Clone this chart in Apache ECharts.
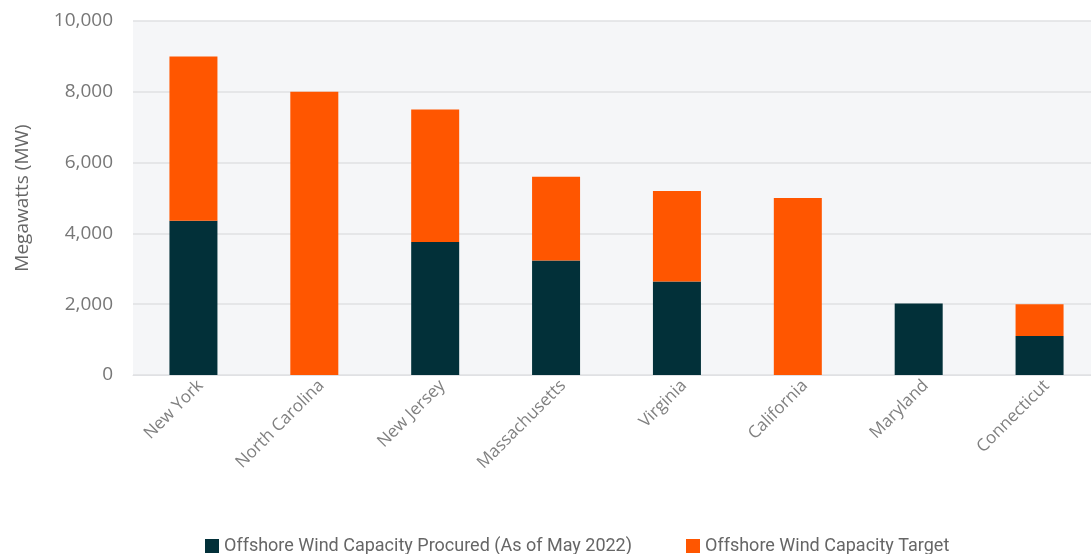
<!DOCTYPE html>
<html>
<head>
<meta charset="utf-8">
<script src="https://cdn.jsdelivr.net/npm/echarts@6/dist/echarts.min.js"></script>
<style>
  html, body { margin: 0; padding: 0; background: #fff; overflow: hidden; }
  #chart { width: 1100px; height: 554px; }
</style>
</head>
<body>
<div id="chart"></div>
<script>
// states, in the order shown
const states = ['New York', 'North Carolina', 'New Jersey', 'Massachusetts', 'Virginia', 'California', 'Maryland', 'Connecticut'];
// procured capacity (MW), dark segment
const procured = [4360, 0, 3758, 3236, 2640, 0, 2022, 1100];
// rest of the target above procured (MW), orange segment
const targetRest = [4640, 8000, 3742, 2364, 2560, 5000, 0, 900];
const yTicks = { min: 0, max: 10000, interval: 2000 };

const chart = echarts.init(document.getElementById('chart'));

const option = {
  animation: false,
  textStyle: { fontFamily: 'Open Sans' },
  grid: {
    left: 133, right: 0, top: 21, bottom: 179,
    show: true, backgroundColor: '#f5f6f8', borderWidth: 0
  },
  legend: {
    top: 532,
    left: 200,
    itemGap: 54,
    itemWidth: 14,
    itemHeight: 14,
    icon: 'rect',
    textStyle: { fontFamily: 'Roboto', fontSize: 18, color: '#666' },
    data: ['Offshore Wind Capacity Procured (As of May 2022)', 'Offshore Wind Capacity Target']
  },
  xAxis: {
    type: 'category',
    data: states,
    axisLine: { show: true, lineStyle: { color: '#e0e1e4' } },
    axisTick: { show: false },
    axisLabel: { rotate: 45, fontSize: 17, color: '#808080', margin: 15, interval: 0, padding: [0, -10, 0, 0] }
  },
  yAxis: {
    type: 'value',
    min: yTicks.min, max: yTicks.max, interval: yTicks.interval,
    name: 'Megawatts (MW)',
    nameLocation: 'middle',
    nameGap: 101,
    nameTextStyle: { fontSize: 19, color: '#666' },
    axisLine: { show: false },
    axisTick: { show: false },
    splitLine: { lineStyle: { color: '#dfe0e3', width: 1.5 } },
    axisLabel: {
      fontSize: 19, color: '#777', margin: 20,
      formatter: v => v.toLocaleString('en-US')
    }
  },
  series: [
    {
      name: 'Offshore Wind Capacity Procured (As of May 2022)',
      type: 'bar', stack: 'cap', barWidth: 48,
      itemStyle: { color: '#023039' },
      data: procured
    },
    {
      name: 'Offshore Wind Capacity Target',
      type: 'bar', stack: 'cap', barWidth: 48,
      itemStyle: { color: '#ff5600' },
      data: targetRest
    }
  ]
};

chart.setOption(option);
</script>
</body>
</html>
